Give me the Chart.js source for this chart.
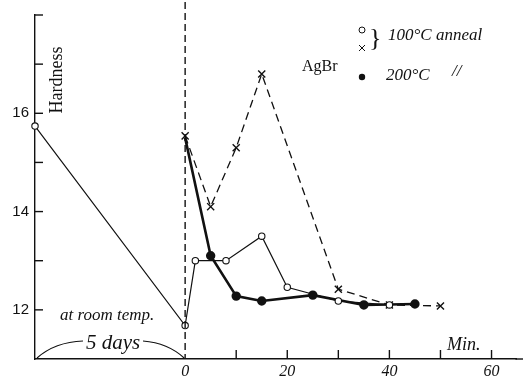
<!DOCTYPE html>
<html>
<head>
<meta charset="utf-8">
<script src="https://cdn.jsdelivr.net/npm/chart.js@4/dist/chart.umd.min.js"></script>
<style>
  body { margin: 0; background: #fff; }
  #hard { display: block; }
</style>
</head>
<body>
<canvas id="hard" width="523" height="380"></canvas>
<script>
// values (x = minutes, left point is the start of the 5 days at room temp)
var openMin  = [-29.4, 0, 2, 8, 15, 20, 30, 40];
var openHard = [15.74, 11.68, 13.0, 13.0, 13.5, 12.46, 12.18, 12.1];

var crossMin  = [0, 5, 10, 15, 30, 40, 50];
var crossHard = [15.54, 14.1, 15.3, 16.8, 12.42, 12.1, 12.08];

var dotMin  = [0, 5, 10, 15, 25, 35, 45];
var dotHard = [15.5, 13.1, 12.28, 12.18, 12.3, 12.1, 12.12];

var yLabelled = [12, 14, 16];
var xLabelled = [0, 20, 40, 60];

var HAND = "italic 17px 'Liberation Serif'";

function pts(xs, ys) {
  return xs.map(function(x, i) { return {x: x, y: ys[i]}; });
}

// inward ticks, the dashed zero line and the hand-written notes
var sketchPlugin = {
  id: "sketch",
  afterDraw: function(chart) {
    var ctx = chart.ctx;
    var xs = chart.scales.x, ys = chart.scales.y;
    var area = chart.chartArea;
    ctx.save();
    ctx.strokeStyle = "#111";
    ctx.fillStyle = "#111";
    ctx.lineWidth = 1.4;

    // axis runs off the right edge of the sheet
    ctx.beginPath();
    ctx.moveTo(area.right - 1, area.bottom);
    ctx.lineTo(chart.width, area.bottom);
    ctx.stroke();

    ys.ticks.forEach(function(t) {
      if (t.value > 11 && Number.isInteger(t.value)) {
        var py = ys.getPixelForValue(t.value);
        ctx.beginPath();
        ctx.moveTo(area.left, py);
        ctx.lineTo(area.left + 8, py);
        ctx.stroke();
      }
    });
    xs.ticks.forEach(function(t) {
      if (t.value > 0 && t.value % 10 === 0) {
        var px = xs.getPixelForValue(t.value);
        ctx.beginPath();
        ctx.moveTo(px, area.bottom);
        ctx.lineTo(px, area.bottom - 9);
        ctx.stroke();
      }
    });

    // dashed line at the start of the anneal
    var x0 = xs.getPixelForValue(0);
    ctx.setLineDash([7, 4]);
    ctx.beginPath();
    ctx.moveTo(x0, 2);
    ctx.lineTo(x0, area.bottom);
    ctx.stroke();
    ctx.setLineDash([]);

    // "5 days" arcs
    ctx.lineWidth = 1.1;
    ctx.beginPath();
    ctx.moveTo(area.left + 2, area.bottom - 1);
    ctx.quadraticCurveTo(55, 342, 83, 341);
    ctx.stroke();
    ctx.beginPath();
    ctx.moveTo(143, 341);
    ctx.quadraticCurveTo(168, 343, x0 - 1, area.bottom - 1);
    ctx.stroke();

    ctx.textBaseline = "middle";
    ctx.font = HAND;
    ctx.fillText("at room temp.", 60, 316);
    ctx.font = "italic 21px 'Liberation Serif'";
    ctx.fillText("5 days", 86, 343);
    ctx.font = "italic 18px 'Liberation Serif'";
    ctx.fillText("Min.", 447, 345);

    ctx.font = "16px 'Liberation Serif'";
    ctx.fillText("AgBr", 302, 67);

    // legend
    ctx.lineWidth = 1;
    ctx.beginPath();
    ctx.arc(362, 30, 3, 0, Math.PI * 2);
    ctx.stroke();
    ctx.beginPath();
    ctx.moveTo(359, 45); ctx.lineTo(365, 51);
    ctx.moveTo(365, 45); ctx.lineTo(359, 51);
    ctx.stroke();
    ctx.font = "26px 'Liberation Serif'";
    ctx.fillText("}", 369, 39);
    ctx.font = HAND;
    ctx.fillText("100°C anneal", 388, 36);
    ctx.beginPath();
    ctx.arc(362, 77, 3.2, 0, Math.PI * 2);
    ctx.fill();
    ctx.fillText("200°C", 386, 76);
    ctx.fillText("//", 452, 72);

    ctx.translate(57, 80);
    ctx.rotate(-Math.PI / 2);
    ctx.textAlign = "center";
    ctx.font = "18px 'Liberation Serif'";
    ctx.fillText("Hardness", 0, 0);
    ctx.restore();
  }
};

new Chart(document.getElementById("hard").getContext("2d"), {
  type: "line",
  data: {
    datasets: [{
      label: "100°C anneal (o)",
      data: pts(openMin, openHard),
      borderColor: "#111",
      borderWidth: 1.2,
      pointStyle: "circle",
      pointRadius: 3.2,
      pointBackgroundColor: "#fff",
      pointBorderColor: "#111",
      pointBorderWidth: 1.1,
      tension: 0
    }, {
      label: "100°C anneal (x)",
      data: pts(crossMin, crossHard),
      borderColor: "#111",
      borderWidth: 1.3,
      borderDash: [8, 5],
      pointStyle: "crossRot",
      pointRadius: 5,
      pointBorderColor: "#111",
      pointBorderWidth: 1.4,
      tension: 0
    }, {
      label: "200°C",
      data: pts(dotMin, dotHard),
      borderColor: "#111",
      borderWidth: 2.6,
      pointStyle: "circle",
      pointRadius: function(c) { return c.dataIndex === 0 ? 0 : 3.4; },
      pointBackgroundColor: "#111",
      pointBorderColor: "#111",
      tension: 0
    }]
  },
  options: {
    responsive: false,
    animation: false,
    clip: false,
    layout: {padding: {top: 7, right: 0, left: 0, bottom: 0}},
    plugins: {legend: {display: false}, tooltip: {enabled: false}},
    scales: {
      x: {
        type: "linear",
        min: -29.4,
        max: 64.87,
        afterFit: function(s) { s.height = 21; },
        grid: {display: false, drawTicks: false},
        border: {display: true, color: "#111", width: 1.4},
        ticks: {
          stepSize: 10,
          includeBounds: false,
          maxTicksLimit: 20,
          autoSkip: false,
          maxRotation: 0,
          padding: 3,
          color: "#111",
          font: {family: "'Liberation Serif'", size: 16, style: "italic"},
          callback: function(v) { return xLabelled.indexOf(v) >= 0 ? String(v) : ""; }
        }
      },
      y: {
        min: 11,
        max: 18,
        afterFit: function(s) { s.width = 35; },
        grid: {display: false, drawTicks: false},
        border: {display: true, color: "#111", width: 1.4},
        ticks: {
          stepSize: 1,
          autoSkip: false,
          padding: 6,
          color: "#111",
          font: {family: "'Liberation Sans'", size: 15},
          callback: function(v) { return yLabelled.indexOf(v) >= 0 ? String(v) : ""; }
        }
      }
    }
  },
  plugins: [sketchPlugin]
});
</script>
</body>
</html>
